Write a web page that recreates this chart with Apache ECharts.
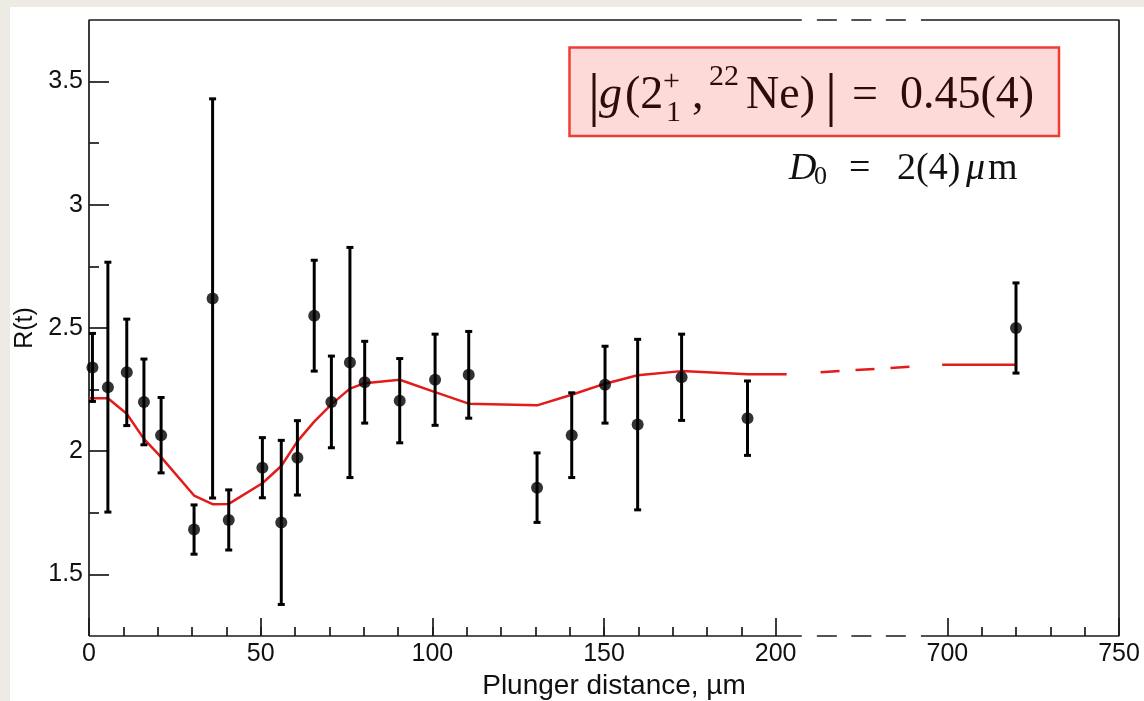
<!DOCTYPE html>
<html>
<head>
<meta charset="utf-8">
<title>R(t) vs plunger distance</title>
<script src="https://cdn.jsdelivr.net/npm/echarts@6/dist/echarts.min.js"></script>
<style>
  html, body { margin: 0; padding: 0; background: #fff; }
  #chart { width: 1144px; height: 701px; }
</style>
</head>
<body>
<div id="chart"></div>
<script>
// measured R(t), plunger distance in µm
const distance = [1, 5.5, 11, 16, 21, 30.6, 36, 40.7, 50.5, 56, 60.7, 65.6, 70.6, 76, 80.3, 90.5, 100.8, 110.6, 130.5, 140.6, 150.3, 159.8, 172.6, 191.8, 720];
const ratio = [2.34, 2.26, 2.32, 2.20, 2.065, 1.682, 2.62, 1.721, 1.933, 1.711, 1.973, 2.55, 2.20, 2.36, 2.28, 2.205, 2.29, 2.31, 1.852, 2.065, 2.27, 2.108, 2.30, 2.134, 2.50];
const ratioErr = [0.138, 0.507, 0.216, 0.174, 0.153, 0.10, 0.81, 0.122, 0.122, 0.333, 0.151, 0.225, 0.186, 0.467, 0.166, 0.171, 0.185, 0.176, 0.141, 0.172, 0.156, 0.346, 0.175, 0.151, 0.183];

// fitted curve (red)
const fitDistance = [0, 5.5, 11, 16, 21, 30.6, 36, 40.7, 50.5, 56, 60.7, 65.6, 70.6, 76, 80.3, 90.5, 100.8, 110.6, 130.5, 140.6, 150.3, 159.8, 172.6, 191.8, 203.2];
const fitRatio = [2.215, 2.215, 2.152, 2.05, 1.976, 1.82, 1.785, 1.786, 1.87, 1.94, 2.04, 2.12, 2.19, 2.254, 2.276, 2.29, 2.24, 2.193, 2.186, 2.229, 2.274, 2.308, 2.325, 2.312, 2.312];
const fitFarDistance = [698.5, 720];
const fitFarRatio = [2.351, 2.351];

// axis ticks
const xTickLabels = [0, 50, 100, 150, 200, 700, 750];
const yTickLabels = [1.5, 2, 2.5, 3, 3.5];
const yMinorTicks = [1.75, 2.25, 2.75, 3.25];

// the x axis is cut between 200 and 700 µm
const CUT = 450;
const toAxis = (d) => (d >= 600 ? d - CUT : d);
const X_MIN = 0, X_MAX = toAxis(750);
const Y_MIN = 1.25, Y_MAX = 3.75;

const xMinorTicks = [];
for (let d = 10; d < 200; d += 10) xMinorTicks.push(d);
for (let d = 710; d < 750; d += 10) xMinorTicks.push(toAxis(d));

const FRAME = '#1a1a1a';
const RED = '#e21b1b';
const sans = 'Liberation Sans';
const serif = 'Liberation Serif';

const frameLine = (pts, dashed) => ({
  type: 'line',
  data: pts.map((p) => [toAxis(p[0]), p[1]]),
  symbol: 'none',
  silent: true,
  clip: false,
  z: 5,
  lineStyle: { color: FRAME, width: 1.7, type: dashed ? [20, 14.5] : 'solid' },
});

const mathText = (str, x, y, size, italic, color) => ({
  type: 'text',
  x: x,
  y: y,
  z: 20,
  style: {
    text: str,
    fontFamily: serif,
    fontSize: size,
    fontStyle: italic ? 'italic' : 'normal',
    fill: color || '#111',
    verticalAlign: 'middle',
    align: 'left',
  },
});

const chart = echarts.init(document.getElementById('chart'));

const boxInk = '#2c0b0b';

chart.setOption({
  backgroundColor: '#ffffff',
  animation: false,
  grid: { left: 89, right: 25, top: 20, bottom: 65, outerBoundsMode: 'none' },
  xAxis: [
    {
      type: 'value',
      position: 'bottom',
      min: X_MIN,
      max: X_MAX,
      axisLine: { show: false },
      splitLine: { show: false },
      axisTick: {
        inside: true,
        length: 18,
        customValues: xTickLabels.map(toAxis),
        lineStyle: { color: FRAME, width: 1.7 },
      },
      axisLabel: {
        customValues: xTickLabels.map(toAxis),
        formatter: (v) => String(v > 200 ? v + CUT : v),
        fontFamily: sans,
        fontSize: 25,
        color: '#111',
        margin: 6,
      },
      name: 'Plunger distance, µm',
      nameLocation: 'middle',
      nameGap: 34,
      nameTextStyle: { fontFamily: sans, fontSize: 28, color: '#111', padding: [0, 0, 0, 20] },
    },
    {
      type: 'value',
      position: 'bottom',
      min: X_MIN,
      max: X_MAX,
      axisLine: { show: false },
      splitLine: { show: false },
      axisLabel: { show: false },
      axisTick: {
        inside: true,
        length: 9,
        customValues: xMinorTicks,
        lineStyle: { color: FRAME, width: 1.7 },
      },
    },
  ],
  yAxis: [
    {
      type: 'value',
      position: 'left',
      min: Y_MIN,
      max: Y_MAX,
      axisLine: { show: false },
      splitLine: { show: false },
      axisTick: {
        inside: true,
        length: 20,
        customValues: yTickLabels,
        lineStyle: { color: FRAME, width: 1.7 },
      },
      axisLabel: {
        customValues: yTickLabels,
        formatter: (v) => String(v),
        fontFamily: sans,
        fontSize: 25,
        color: '#111',
        margin: 6,
      },
      name: 'R(t)',
      nameLocation: 'middle',
      nameGap: 50,
      nameTextStyle: { fontFamily: sans, fontSize: 25, color: '#111' },
    },
    {
      type: 'value',
      position: 'left',
      min: Y_MIN,
      max: Y_MAX,
      axisLine: { show: false },
      splitLine: { show: false },
      axisLabel: { show: false },
      axisTick: {
        inside: true,
        length: 10,
        customValues: yMinorTicks,
        lineStyle: { color: FRAME, width: 1.7 },
      },
    },
  ],
  series: [
    // frame with the break marks
    frameLine([[0, Y_MIN], [207.6, Y_MIN]]),
    frameLine([[212, Y_MIN], [687.9, Y_MIN]], true),
    frameLine([[692.3, Y_MIN], [750, Y_MIN], [750, Y_MAX], [692.3, Y_MAX]]),
    frameLine([[212, Y_MAX], [687.9, Y_MAX]], true),
    frameLine([[207.6, Y_MAX], [0, Y_MAX], [0, Y_MIN]]),
    // fit
    {
      type: 'line',
      data: fitDistance.map((d, i) => [toAxis(d), fitRatio[i]]),
      symbol: 'none',
      lineStyle: { color: RED, width: 2.5 },
      z: 6,
    },
    {
      type: 'line',
      data: [
        [toAxis(fitDistance[fitDistance.length - 1]), fitRatio[fitRatio.length - 1]],
        [toAxis(fitFarDistance[0]), fitFarRatio[0]],
      ],
      symbol: 'none',
      lineStyle: { color: RED, width: 2.5, type: [19, 16, 19, 16, 19, 68], dashOffset: 123 },
      z: 6,
    },
    {
      type: 'line',
      data: fitFarDistance.map((d, i) => [toAxis(d), fitFarRatio[i]]),
      symbol: 'none',
      lineStyle: { color: RED, width: 2.5 },
      z: 6,
    },
    // error bars
    {
      type: 'custom',
      z: 7,
      data: distance.map((d, i) => [toAxis(d), ratio[i] - ratioErr[i], ratio[i] + ratioErr[i]]),
      encode: { x: 0, y: [1, 2] },
      renderItem(params, api) {
        const x = api.value(0);
        const top = api.coord([x, api.value(2)]);
        const bot = api.coord([x, api.value(1)]);
        const cap = 3.5;
        const st = { stroke: '#000', lineWidth: 3 };
        return {
          type: 'group',
          children: [
            { type: 'line', shape: { x1: top[0], y1: top[1], x2: bot[0], y2: bot[1] }, style: st },
            { type: 'line', shape: { x1: top[0] - cap, y1: top[1], x2: top[0] + cap, y2: top[1] }, style: st },
            { type: 'line', shape: { x1: bot[0] - cap, y1: bot[1], x2: bot[0] + cap, y2: bot[1] }, style: st },
          ],
        };
      },
    },
    // points
    {
      type: 'scatter',
      data: distance.map((d, i) => [toAxis(d), ratio[i]]),
      symbol: 'circle',
      symbolSize: 12,
      itemStyle: { color: '#000' },
      z: 8,
    },
  ],
  graphic: [
    // beige page margin
    { type: 'rect', shape: { x: 0, y: 0, width: 1144, height: 7 }, style: { fill: '#eeebe4' }, z: 0 },
    { type: 'rect', shape: { x: 0, y: 0, width: 10, height: 701 }, style: { fill: '#eeebe4' }, z: 0 },
    // result box
    {
      type: 'rect',
      shape: { x: 569.5, y: 47.5, width: 489.5, height: 88.5 },
      style: { fill: '#fdd9d8', stroke: '#ef3d35', lineWidth: 2.5 },
      z: 15,
    },
    mathText('|', 588, 98, 60, false, boxInk),
    mathText('g', 599, 96, 46, true, boxInk),
    mathText('(2', 625, 96, 46, false, boxInk),
    mathText('+', 663, 82, 30, false, boxInk),
    mathText('1', 666, 113, 30, false, boxInk),
    mathText(',', 692, 96, 46, false, boxInk),
    mathText('22', 709, 77, 30, false, boxInk),
    mathText('Ne)', 746, 96, 46, false, boxInk),
    mathText('|', 825, 98, 60, false, boxInk),
    mathText('=', 852, 96, 46, false, boxInk),
    mathText('0.45(4)', 900, 96, 46, false, boxInk),
    // D0
    mathText('D', 789, 169, 38, true),
    mathText('0', 814, 177, 26, false),
    mathText('=', 849, 169, 38, false),
    mathText('2(4)', 897, 169, 38, false),
    mathText('μ', 966, 169, 38, true),
    mathText('m', 988, 169, 38, false),
  ],
});

window.addEventListener('resize', () => {
  chart.resize();
});
</script>
</body>
</html>
